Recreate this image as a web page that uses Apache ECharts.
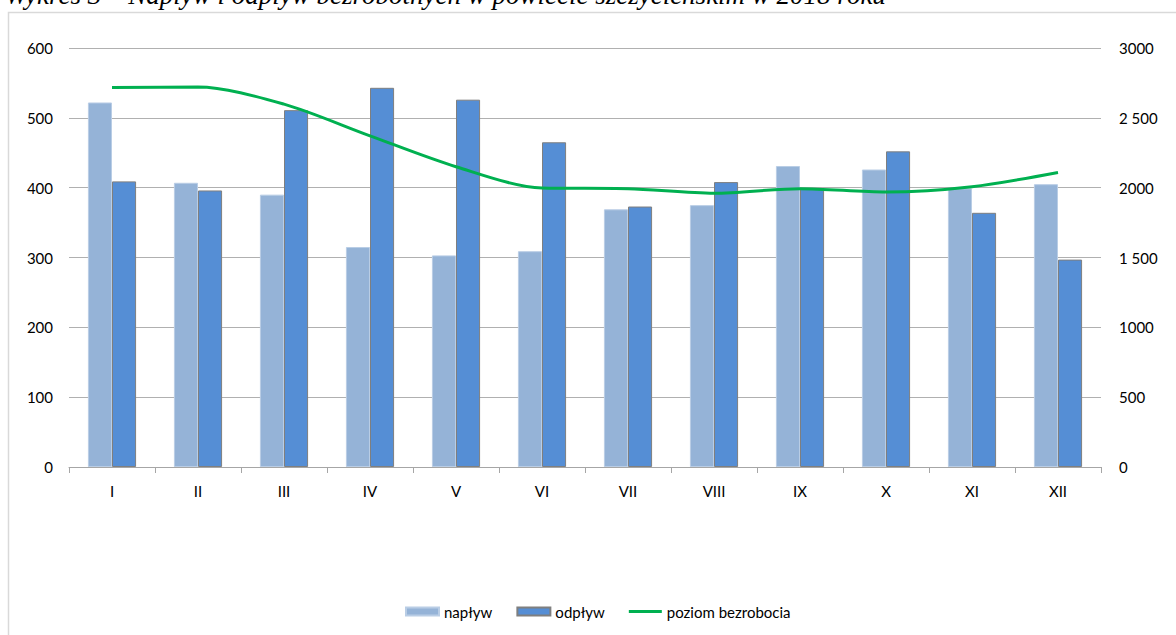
<!DOCTYPE html>
<html>
<head>
<meta charset="utf-8">
<script src="https://cdn.jsdelivr.net/npm/echarts@6/dist/echarts.min.js"></script>
<style>
html,body{margin:0;padding:0;background:#fff;}
#chart{width:1176px;height:635px;}
</style>
</head>
<body>
<div id="chart"></div>
<script>
const titleText = 'Wykres 3 – Napływ i odpływ bezrobotnych w powiecie szczycieńskim w 2018 roku';
const months = ['I','II','III','IV','V','VI','VII','VIII','IX','X','XI','XII'];
const naplyw = [522, 407, 390, 315, 303, 309, 369, 375, 431, 426, 399, 405];
const odplyw = [409, 396, 511, 543, 526, 465, 373, 408, 398, 452, 364, 297];
const poziom = [2717, 2721, 2598, 2371, 2150, 1998, 1993, 1960, 1993, 1969, 2007, 2109];
const rightTickLabels = {0:'0',500:'500',1000:'1000',1500:'1 500',2000:'2000',2500:'2 500',3000:'3000'};

const chart = echarts.init(document.getElementById('chart'), null, {renderer:'svg'});
const font = 'Lato, "Open Sans", sans-serif';
chart.setOption({
  animation:false,
  backgroundColor:'#fff',
  title:{
    text:titleText, left:0, top:-24,
    textStyle:{fontFamily:'"Liberation Serif", serif', fontStyle:'italic', fontWeight:'normal', fontSize:27, color:'#000'}
  },
  graphic:[{
    type:'rect', silent:true, z:-1,
    shape:{x:8.5, y:12.5, width:1200, height:700},
    style:{fill:'none', stroke:'#d9d9d9', lineWidth:1.5}
  }],
  grid:{left:69, right:75, top:48, bottom:168, containLabel:false},
  legend:{
    left:400, top:599, itemWidth:33, itemHeight:8, itemGap:24,
    textStyle:{fontFamily:font, fontSize:15, color:'#000'},
    data:[
      {name:'napływ', icon:'rect'},
      {name:'odpływ', icon:'rect'},
      {name:'poziom bezrobocia', icon:'path://M0,0H33V3H0Z'}
    ]
  },
  xAxis:{
    type:'category', data:months,
    axisLine:{lineStyle:{color:'#a6a6a6'}},
    axisTick:{show:true, length:6, lineStyle:{color:'#a6a6a6'}},
    axisLabel:{margin:16, fontFamily:font, fontSize:15, color:'#000'}
  },
  yAxis:[{
    type:'value', min:0, max:600, interval:100,
    axisLine:{show:false}, axisTick:{show:false},
    splitLine:{lineStyle:{color:'#b0b0b0'}},
    axisLabel:{margin:16, fontFamily:font, fontSize:15, color:'#000'}
  },{
    type:'value', min:0, max:3000, interval:500,
    axisLine:{show:false}, axisTick:{show:false}, splitLine:{show:false},
    axisLabel:{margin:18, fontFamily:font, fontSize:15, color:'#000', formatter:v=>rightTickLabels[v]}
  }],
  series:[{
    name:'napływ', type:'bar', data:naplyw, barGap:'0%', barCategoryGap:'44%',
    itemStyle:{color:'#95b3d7', borderColor:'#b9cde5', borderWidth:1}
  },{
    name:'odpływ', type:'bar', data:odplyw, barGap:'0%', barCategoryGap:'44%',
    itemStyle:{color:'#558ed5', borderColor:'#7f7f7f', borderWidth:1}
  },{
    name:'poziom bezrobocia', type:'line', yAxisIndex:1, data:poziom,
    smooth:0.3, showSymbol:false, symbol:'none',
    lineStyle:{color:'#00b050', width:3}, itemStyle:{color:'#00b050'}, z:5
  }]
});
</script>
</body>
</html>
